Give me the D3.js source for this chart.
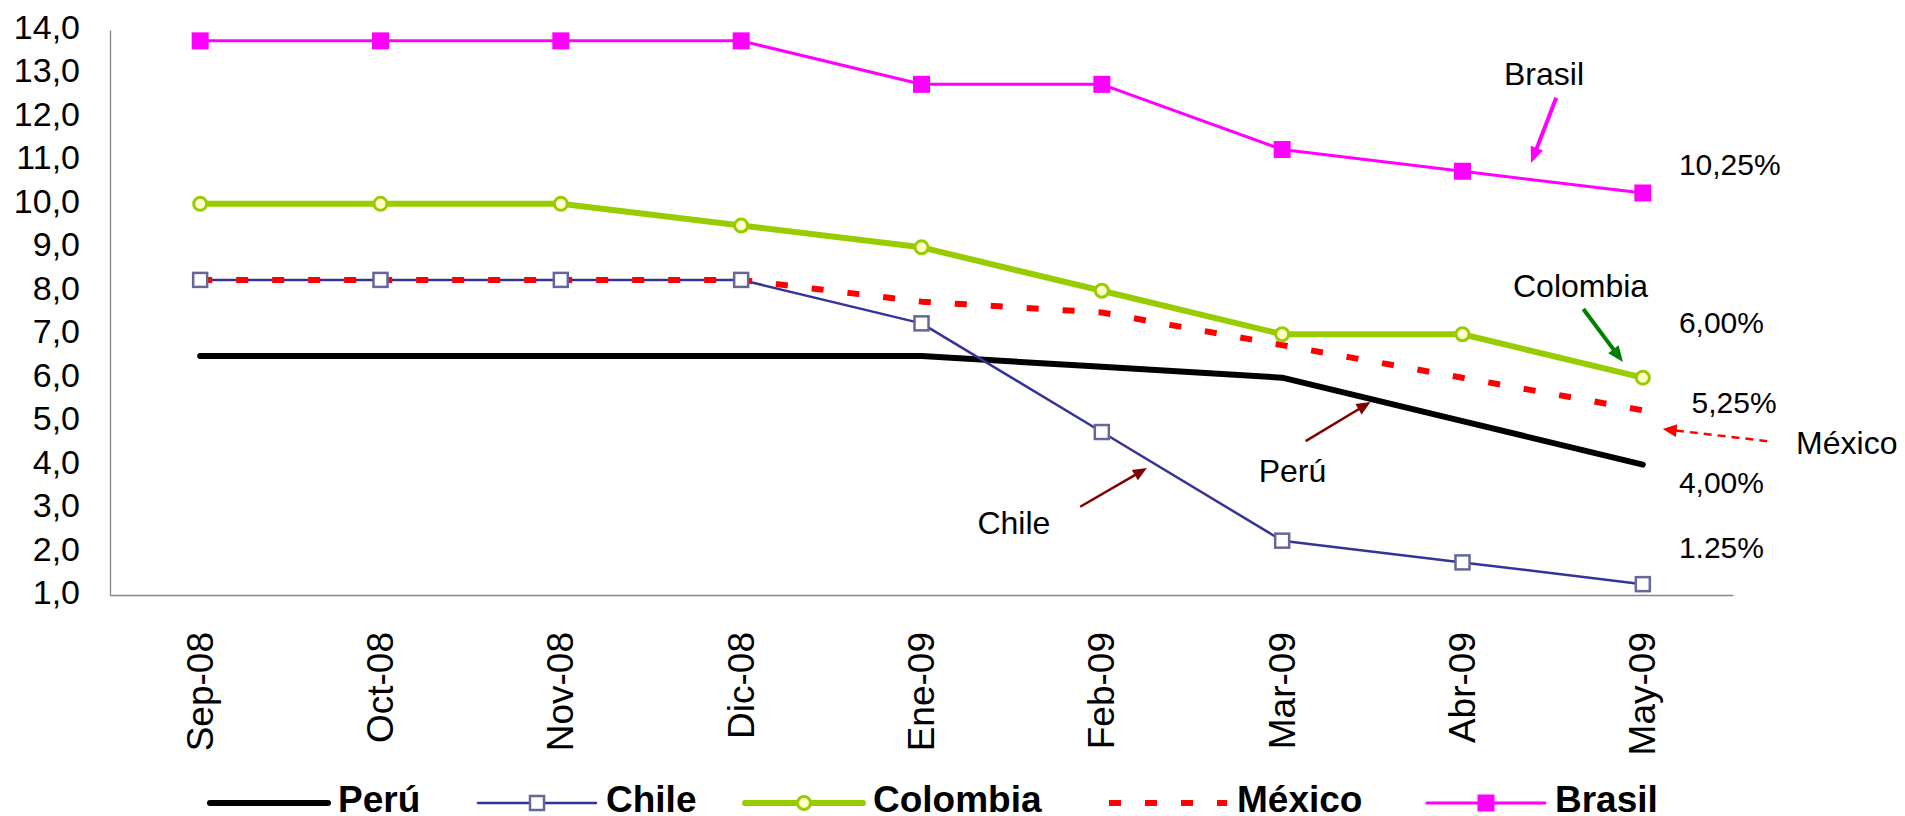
<!DOCTYPE html>
<html>
<head>
<meta charset="utf-8">
<script src="https://cdn.jsdelivr.net/npm/d3@7"></script>
<style>
  body { margin: 0; background: #fff; }
  svg { display: block; }
  text { font-family: "Liberation Sans", Arial, sans-serif; fill: #000; }
</style>
</head>
<body>
<svg id="chart" width="1905" height="816"></svg>
<script>
// Policy interest rates (%), Sep-08 to May-09
const months   = ["Sep-08", "Oct-08", "Nov-08", "Dic-08", "Ene-09", "Feb-09", "Mar-09", "Abr-09", "May-09"];
const peru     = [6.5, 6.5, 6.5, 6.5, 6.5, 6.25, 6.0, 5.0, 4.0];
const chile    = [8.25, 8.25, 8.25, 8.25, 7.25, 4.75, 2.25, 1.75, 1.25];
const colombia = [10.0, 10.0, 10.0, 9.5, 9.0, 8.0, 7.0, 7.0, 6.0];
const mexico   = [8.25, 8.25, 8.25, 8.25, 7.75, 7.5, 6.75, 6.0, 5.25];
const brasil   = [13.75, 13.75, 13.75, 13.75, 12.75, 12.75, 11.25, 10.75, 10.25];
const yTicks   = [1, 2, 3, 4, 5, 6, 7, 8, 9, 10, 11, 12, 13, 14];
const seriesNames = ["Perú", "Chile", "Colombia", "México", "Brasil"];
const seriesValues = [peru, chile, colombia, mexico, brasil];

// Closing-value labels and call-out arrows, in (month index, rate) space
const valueLabels = [
  { text: "10,25%", at: [8.20, 10.66] },
  { text: "6,00%",  at: [8.20, 7.03] },
  { text: "5,25%",  at: [8.27, 5.19] },
  { text: "4,00%",  at: [8.20, 3.35] },
  { text: "1.25%",  at: [8.20, 1.85] }
];
const callouts = [
  { text: "Brasil",   at: [7.23, 12.74], from: [7.52, 12.44], to: [7.38, 10.94] },
  { text: "Colombia", at: [7.28, 7.86],  from: [7.67, 7.58],  to: [7.89, 6.36] },
  { text: "México",   at: [8.85, 4.24],  from: [8.69, 4.54],  to: [8.11, 4.82] },
  { text: "Chile",    at: [4.31, 2.40],  from: [4.88, 3.03],  to: [5.25, 3.92] },
  { text: "Perú",     at: [5.87, 3.60],  from: [6.13, 4.54],  to: [6.49, 5.44] }
];

const styles = {
  "Perú":     { color: "#000000", width: 6,   marker: null },
  "Chile":    { color: "#333399", width: 2.5, marker: "openSquare" },
  "Colombia": { color: "#99CC00", width: 6,   marker: "circle" },
  "México":   { color: "#FF0000", width: 6,   marker: null, dash: "12,24" },
  "Brasil":   { color: "#FF00FF", width: 3,   marker: "filledSquare" }
};
const arrowStyles = {
  "Brasil":   { color: "#FF00FF", width: 4,   headL: 16, headW: 13 },
  "Colombia": { color: "#008000", width: 4,   headL: 16, headW: 13 },
  "México":   { color: "#FF0000", width: 2.5, headL: 14, headW: 13, dash: "8,6" },
  "Chile":    { color: "#800000", width: 2.5, headL: 14, headW: 12 },
  "Perú":     { color: "#800000", width: 2.5, headL: 14, headW: 12 }
};

const svg = d3.select("#chart");
const plot = { left: 110, right: 1733, top: 30, bottom: 595 };

const x = d3.scalePoint().domain(months).range([plot.left, plot.right]).padding(0.5);
const y = d3.scaleLinear().domain([1, 14]).range([plot.bottom, plot.top]);
const xi = d3.scaleLinear().domain([0, months.length - 1]).range([x(months[0]), x(months[months.length - 1])]);

// Axes
const fmt = v => d3.format(".1f")(v).replace(".", ",");
const yAxis = svg.append("g")
  .attr("transform", `translate(${plot.left},0)`)
  .call(d3.axisLeft(y).tickValues(yTicks).tickFormat(fmt).tickSize(0).tickSizeOuter(0).tickPadding(30));
yAxis.select(".domain").attr("stroke", "#868686").attr("stroke-width", 1.3);
yAxis.selectAll("text").attr("font-size", 34).attr("dy", "0.25em")
  .style("font-family", '"Liberation Sans", Arial, sans-serif').attr("fill", "#000");

const xAxis = svg.append("g")
  .attr("transform", `translate(0,${plot.bottom})`)
  .call(d3.axisBottom(x).tickSize(0).tickSizeOuter(0));
xAxis.select(".domain").attr("stroke", "#868686").attr("stroke-width", 1.3);
xAxis.selectAll("text")
  .attr("font-size", 37)
  .style("font-family", '"Liberation Sans", Arial, sans-serif')
  .attr("fill", "#000")
  .attr("text-anchor", "end")
  .attr("transform", "rotate(-90)")
  .attr("x", -37).attr("y", 12).attr("dy", 0);

// Series lines
const line = d3.line().x((d, i) => x(months[i])).y(d => y(d));
seriesNames.forEach((name, k) => {
  const s = styles[name];
  svg.append("path")
    .datum(seriesValues[k])
    .attr("fill", "none")
    .attr("stroke", s.color)
    .attr("stroke-width", s.width)
    .attr("stroke-linejoin", "round")
    .attr("stroke-linecap", s.dash ? "butt" : "round")
    .attr("stroke-dasharray", s.dash || null)
    .attr("d", line);
});

function drawMarker(g, type, cx, cy) {
  if (type === "openSquare") {
    g.append("rect").attr("x", cx - 7).attr("y", cy - 7).attr("width", 14).attr("height", 14)
      .attr("fill", "#fff").attr("stroke", "#666699").attr("stroke-width", 2.5);
  } else if (type === "filledSquare") {
    g.append("rect").attr("x", cx - 8.5).attr("y", cy - 8.5).attr("width", 17).attr("height", 17)
      .attr("fill", "#FF00FF");
  } else if (type === "circle") {
    g.append("circle").attr("cx", cx).attr("cy", cy).attr("r", 6.5)
      .attr("fill", "#FFFFCC").attr("stroke", "#99CC00").attr("stroke-width", 3);
  }
}

// Series markers
const markers = svg.append("g");
seriesNames.forEach((name, k) => {
  const s = styles[name];
  if (!s.marker) return;
  seriesValues[k].forEach((v, i) => drawMarker(markers, s.marker, x(months[i]), y(v)));
});

// Value labels
svg.append("g").selectAll("text").data(valueLabels).join("text")
  .attr("x", d => xi(d.at[0])).attr("y", d => y(d.at[1]))
  .attr("font-size", 30)
  .text(d => d.text);

// Call-outs
function arrow(g, a, st) {
  const x1 = xi(a.from[0]), y1 = y(a.from[1]), x2 = xi(a.to[0]), y2 = y(a.to[1]);
  const dx = x2 - x1, dy = y2 - y1, len = Math.hypot(dx, dy);
  const ux = dx / len, uy = dy / len;
  const bx = x2 - ux * st.headL, by = y2 - uy * st.headL;
  g.append("line")
    .attr("x1", x1).attr("y1", y1).attr("x2", bx + ux * 2).attr("y2", by + uy * 2)
    .attr("stroke", st.color).attr("stroke-width", st.width)
    .attr("stroke-dasharray", st.dash || null);
  const hw = st.headW / 2;
  g.append("path")
    .attr("d", `M${x2},${y2}L${bx - uy * hw},${by + ux * hw}L${bx + uy * hw},${by - ux * hw}Z`)
    .attr("fill", st.color);
}
const calloutG = svg.append("g");
callouts.forEach(c => {
  arrow(calloutG, c, arrowStyles[c.text]);
  calloutG.append("text").attr("x", xi(c.at[0])).attr("y", y(c.at[1]))
    .attr("font-size", 32).text(c.text);
});

// Legend
const legendY = 803;
const legendStart = [210, 478, 745, 1109, 1427];
const legend = svg.append("g");
seriesNames.forEach((name, k) => {
  const s = styles[name];
  const x0 = legendStart[k], x1 = x0 + 118;
  legend.append("line")
    .attr("x1", x0).attr("x2", x1).attr("y1", legendY).attr("y2", legendY)
    .attr("stroke", s.color).attr("stroke-width", s.width)
    .attr("stroke-linecap", s.dash ? "butt" : "round")
    .attr("stroke-dasharray", s.dash || null);
  if (s.marker) drawMarker(legend, s.marker, (x0 + x1) / 2, legendY);
  legend.append("text")
    .attr("x", x0 + 128).attr("y", 812)
    .attr("font-size", 37).attr("font-weight", "bold")
    .text(name);
});
</script>
</body>
</html>
